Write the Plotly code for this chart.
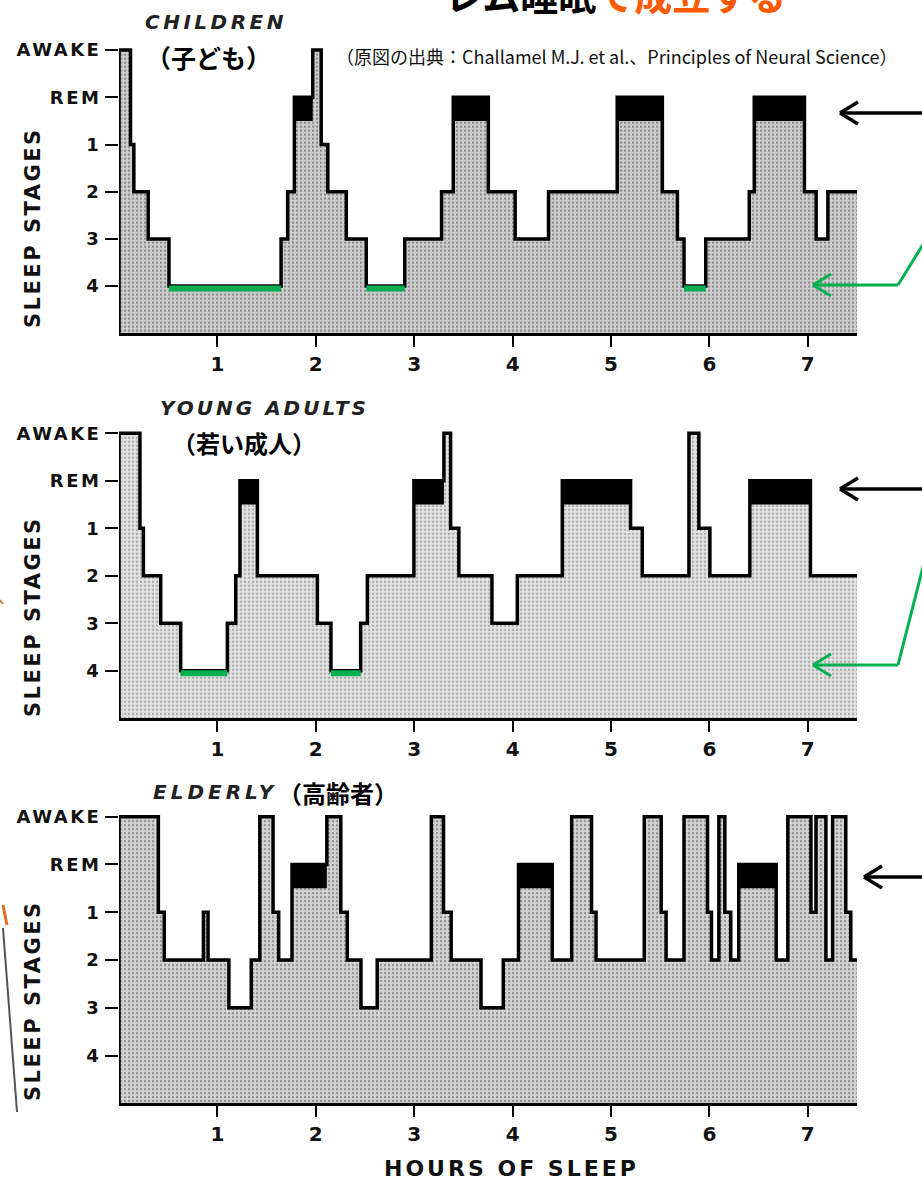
import plotly.graph_objects as go

# ---------------- data (hours, stage) ----------------
STAGE_LABELS = ["AWAKE", "REM", "1", "2", "3", "4"]
STAGE_LEVEL = {"W": 6, "R": 5, "1": 4, "2": 3, "3": 2, "4": 1}
HOUR_TICKS = [1, 2, 3, 4, 5, 6, 7]
END_HOUR = 7.5

children_t = [0.00, 0.117, 0.151, 0.297, 0.508, 1.647, 1.714, 1.782, 1.969, 2.055,
              2.122, 2.31, 2.513, 2.904, 3.278, 3.397, 3.753, 4.026, 4.365, 5.063,
              5.522, 5.675, 5.742, 5.963, 6.405, 6.456, 6.966, 7.085, 7.204]
children_s = ["W", "1", "2", "3", "4", "3", "2", "R", "W", "1",
              "2", "3", "4", "3", "2", "R", "2", "3", "2", "R",
              "2", "3", "4", "3", "2", "R", "2", "3", "2"]

young_t = [0.00, 0.213, 0.248, 0.424, 0.627, 1.101, 1.186, 1.229, 1.406, 2.016,
           2.154, 2.456, 2.524, 2.997, 3.302, 3.37, 3.454, 3.79, 4.048, 4.505,
           5.199, 5.318, 5.792, 5.893, 6.005, 6.411, 7.027]
young_s = ["W", "1", "2", "3", "4", "3", "2", "R", "2", "3",
           "4", "3", "2", "R", "W", "1", "2", "3", "2", "R",
           "1", "2", "W", "1", "2", "R", "2"]

elderly_t = [0.00, 0.40, 0.46, 0.858, 0.905, 1.117, 1.344, 1.431, 1.566, 1.623,
             1.758, 2.112, 2.254, 2.32, 2.459, 2.624, 3.174, 3.298, 3.376, 3.679,
             3.905, 4.06, 4.403, 4.6, 4.802, 4.848, 5.338, 5.51, 5.56, 5.742,
             5.981, 6.021, 6.096, 6.157, 6.217, 6.298, 6.679, 6.797, 7.032, 7.083,
             7.184, 7.252, 7.386, 7.437]
elderly_s = ["W", "1", "2", "1", "2", "3", "2", "W", "1", "2",
             "R", "W", "1", "2", "3", "2", "W", "1", "2", "3",
             "2", "R", "2", "W", "1", "2", "W", "1", "2", "W",
             "1", "2", "W", "1", "2", "R", "2", "W", "1", "W",
             "2", "W", "1", "2"]

panels = [
    dict(t=children_t, s=children_s, bg="#cfcfcf", fg="#4a4a4a", green=True),
    dict(t=young_t, s=young_s, bg="#e2e2e2", fg="#7a7a7a", green=True),
    dict(t=elderly_t, s=elderly_s, bg="#d4d4d4", fg="#555555", green=False),
]

# ---------------- layout geometry (pixels) ----------------
W, H = 922, 1190
ML, MR, MT, MB = 119, 65, 10, 10
PW, PH = W - ML - MR, H - MT - MB
YMAX = 6.2
panel_px = [(333.3, 47.2), (718.3, 47.5), (1103.3, 47.77)]  # bottom pixel, px per unit


def fx(x):
    return (x - ML) / PW


def fy(y):
    return (H - MB - y) / PH


def spaced(text, px):
    return "<span style='letter-spacing:%spx'>%s</span>" % (px, text)


fig = go.Figure()
layout_axes = {}

for i, p in enumerate(panels):
    n = "" if i == 0 else str(i + 1)
    xa, ya = "x" + n, "y" + n
    lv = [STAGE_LEVEL[s] for s in p["s"]]
    xs = [0.0] + p["t"] + [END_HOUR]
    ys = [0] + lv + [lv[-1]]

    # stippled grey area
    fig.add_trace(go.Scatter(
        x=xs, y=ys, mode="lines", line=dict(width=0, shape="hv"),
        fill="tozeroy", fillcolor=p["bg"],
        fillpattern=dict(shape=".", bgcolor=p["bg"], fgcolor=p["fg"], size=4, solidity=0.3),
        xaxis=xa, yaxis=ya, hoverinfo="skip", showlegend=False))

    # black REM bands
    rx, ry = [], []
    ends = p["t"][1:] + [END_HOUR]
    for t0, t1, s in zip(p["t"], ends, p["s"]):
        if s == "R":
            rx += [t0, t1, t1, t0, t0, None]
            ry += [4.5, 4.5, 5, 5, 4.5, None]
    fig.add_trace(go.Scatter(x=rx, y=ry, mode="lines", fill="toself", fillcolor="black",
                             line=dict(width=0), xaxis=xa, yaxis=ya,
                             hoverinfo="skip", showlegend=False))

    # hypnogram outline
    fig.add_trace(go.Scatter(
        x=xs, y=ys, mode="lines", line=dict(color="black", width=3.5, shape="hv"),
        xaxis=xa, yaxis=ya, hoverinfo="skip", showlegend=False))

    # green stage-4 marks
    if p["green"]:
        gx, gy = [], []
        for t0, t1, s in zip(p["t"], ends, p["s"]):
            if s == "4":
                gx += [t0, t1, None]
                gy += [0.95, 0.95, None]
        fig.add_trace(go.Scatter(x=gx, y=gy, mode="lines",
                                 line=dict(color="#00b050", width=6),
                                 xaxis=xa, yaxis=ya, hoverinfo="skip", showlegend=False))

    bottom, unit = panel_px[i]
    top = bottom - YMAX * unit
    layout_axes["xaxis" + n] = dict(
        domain=[0, 1], range=[0, END_HOUR], anchor=ya,
        tickvals=HOUR_TICKS, ticktext=[str(v) for v in HOUR_TICKS],
        ticks="outside", ticklen=11, tickwidth=2, tickcolor="black",
        showline=True, linewidth=3, linecolor="black", showgrid=False, zeroline=False,
        tickfont=dict(family="DejaVu Sans", size=20, color="#111", weight="bold"),
        automargin=False, fixedrange=True)
    layout_axes["yaxis" + n] = dict(
        domain=[fy(bottom), fy(top)], range=[0, YMAX], anchor=xa,
        tickvals=[6, 5, 4, 3, 2, 1], ticktext=[spaced(t, 2.5) for t in STAGE_LABELS],
        ticks="outside", ticklen=13, tickwidth=2, tickcolor="black",
        showline=False, showgrid=False, zeroline=False,
        tickfont=dict(family="DejaVu Sans", size=18, color="#111", weight="bold"),
        automargin=False, fixedrange=True)

fig.update_layout(**layout_axes)

ann = []


def add_text(text, x, y, size, family, color="black", weight="normal", style="normal",
             xanchor="left", textangle=0):
    ann.append(dict(text=text, x=fx(x), y=fy(y), xref="paper", yref="paper",
                    xanchor=xanchor, yanchor="middle", showarrow=False, textangle=textangle,
                    font=dict(size=size, family=family, color=color, weight=weight, style=style)))


LAT = "DejaVu Sans"
JP = "Noto Sans CJK JP"
add_text(spaced("CHILDREN", 3.5), 143, 22, 20, LAT, color="#222", weight="bold", style="italic")
add_text("（子ども）", 144, 57, 25, JP, weight="bold")
add_text("（原図の出典：Challamel M.J. et al.、Principles of Neural Science）", 334, 56, 18, JP, color="#111")
add_text(spaced("YOUNG ADULTS", 3), 158, 408, 20, LAT, color="#222", weight="bold", style="italic")
add_text("（若い成人）", 170, 442, 24, JP, weight="bold")
add_text(spaced("ELDERLY", 4), 151, 792, 20, LAT, color="#222", weight="bold", style="italic")
add_text("（高齢者）", 276, 792, 24, JP, weight="bold")
add_text(spaced("HOURS OF SLEEP", 3), 511, 1168, 22, LAT, color="#111", weight="bold", xanchor="center")
for yc in (228, 617, 1001):
    add_text(spaced("SLEEP STAGES", 2.5), 33, yc, 21, LAT, color="#111", weight="bold",
             xanchor="center", textangle=-90)

# partially visible heading at the very top (cut by the page edge, as in the source)
ann.append(dict(
    text="<span style='color:black'>レム睡眠</span><span style='color:#ff5a00'>で成立する</span>",
    x=fx(443), y=fy(-7), xref="paper", yref="paper", xanchor="left", yanchor="middle",
    showarrow=False, font=dict(size=38, family=JP, weight="bold")))

fig.update_layout(annotations=ann)

shapes = []


def seg(x0, y0, x1, y1, color, width):
    shapes.append(dict(type="line", xref="paper", yref="paper",
                       x0=fx(x0), y0=fy(y0), x1=fx(x1), y1=fy(y1),
                       line=dict(color=color, width=width)))


def arrow_head(x, y, color, width):
    seg(x, y, x + 18, y - 11, color, width)
    seg(x, y, x + 18, y + 11, color, width)


for (ax, ay) in [(840, 113), (840, 489), (864, 877)]:
    seg(ax, ay, 930, ay, "black", 3.5)
    arrow_head(ax, ay, "black", 3.5)

G = "#00b050"
seg(813, 285, 898, 285, G, 3)
arrow_head(813, 285, G, 3)
seg(898, 285, 935, 225, G, 3)
seg(813, 665, 898, 665, G, 3)
arrow_head(813, 665, G, 3)
seg(898, 665, 926, 555, G, 3)

# pointer remnants at left edge
seg(3, 928, 17, 1112, "#555555", 2)
seg(3, 905, 7, 925, "#e07020", 3)
seg(0, 600, 3, 604, "#d08040", 2)

fig.update_layout(shapes=shapes)

fig.update_layout(width=W, height=H, margin=dict(l=ML, r=MR, t=MT, b=MB),
                  paper_bgcolor="white", plot_bgcolor="rgba(0,0,0,0)", showlegend=False)

fig.write_html("out.html", config={"displayModeBar": False},
               post_script="document.body.style.margin='0px';")
